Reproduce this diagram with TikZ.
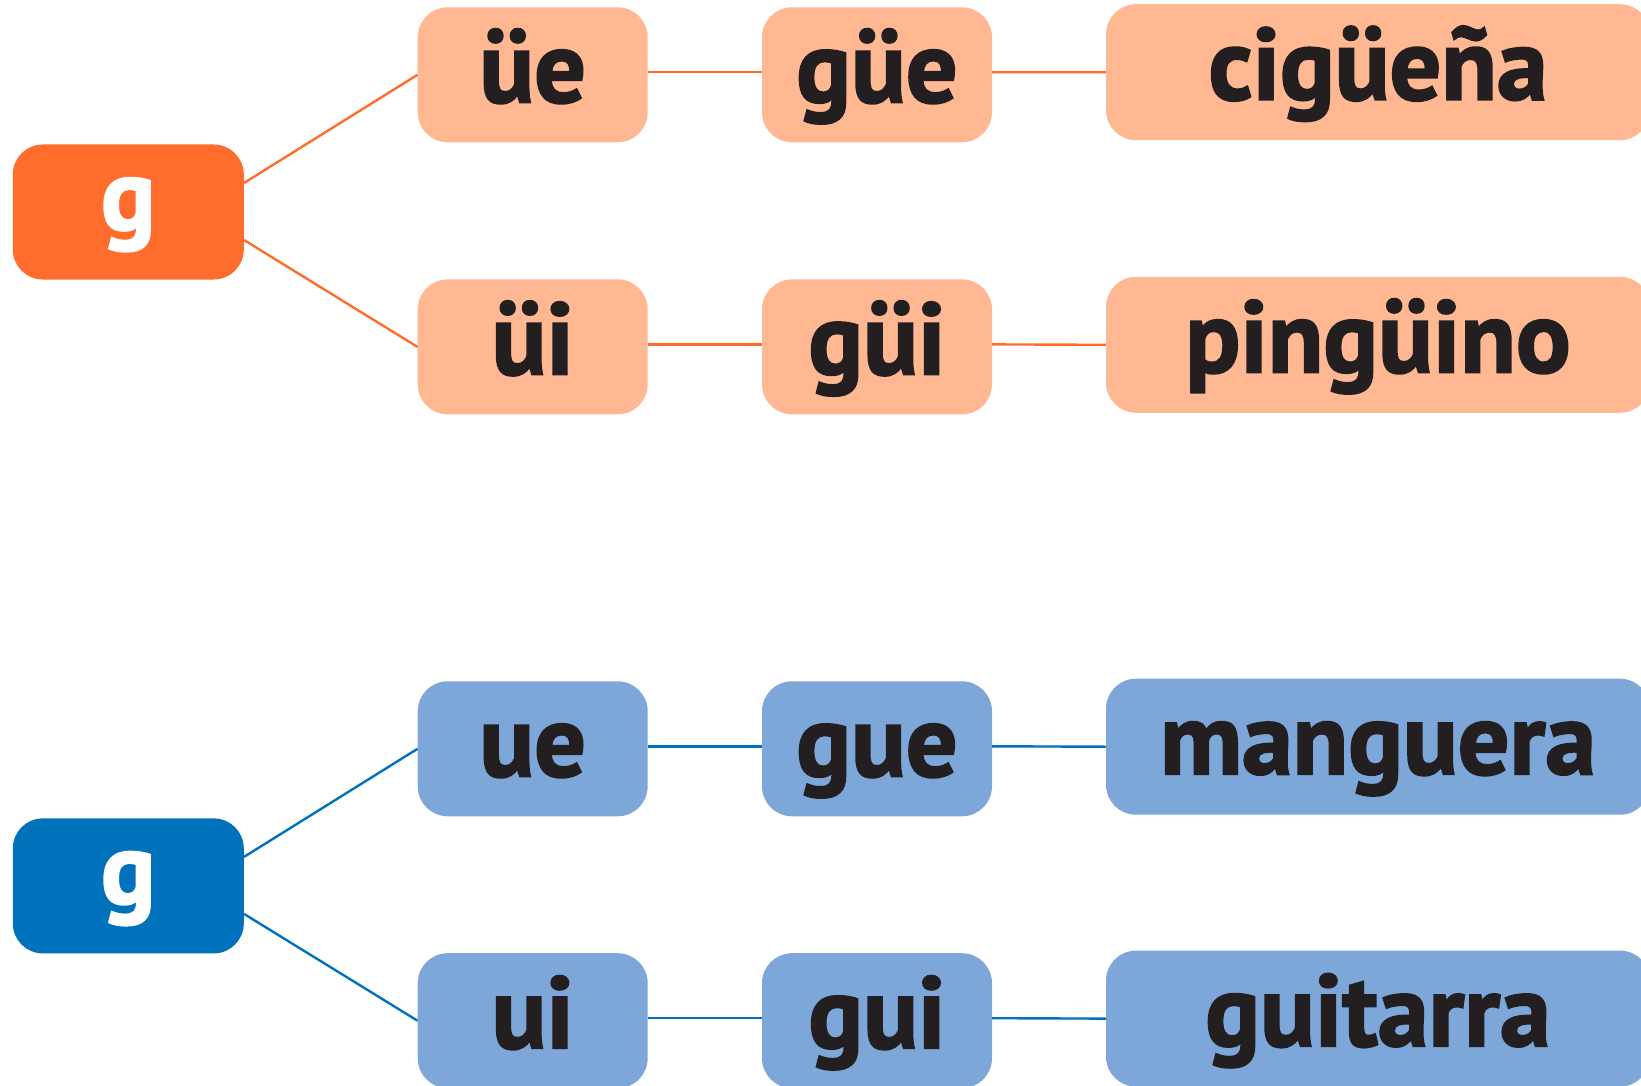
\documentclass[tikz,border=0pt]{standalone}
\usepackage{fontspec}
\setmainfont{PT Sans}[BoldFeatures={FakeBold=2}]
\definecolor{oDark}{HTML}{FF6C2C}
\definecolor{oLight}{HTML}{FFB892}
\definecolor{bDark}{HTML}{0072BC}
\definecolor{bLight}{HTML}{7DA7D9}
\definecolor{txt}{HTML}{231F20}
\begin{document}
\begin{tikzpicture}[x=1pt,y=-1pt,
  box/.style={rounded corners=30pt, inner sep=0pt, minimum height=135pt,
    text height=75pt, text depth=20pt,
    font=\fontsize{102}{102}\selectfont\bfseries, text=txt},
  smallbox/.style={box, minimum width=230pt},
  bigbox/.style={box, minimum width=544pt, minimum height=136pt},
  rootbox/.style={box, minimum width=231pt, text=white, text height=56pt, text depth=20pt},
  oline/.style={draw=oDark, line width=2.4pt},
  bline/.style={draw=bDark, line width=2.4pt}]
\useasboundingbox (0,0) rectangle (1641,1086);
% orange group
\node[rootbox, fill=oDark] (gO) at (128.3,212) {g};
\node[smallbox, fill=oLight] (ue1) at (532.7,74.8) {üe};
\node[smallbox, fill=oLight] (gue1) at (877,74.8) {güe};
\node[bigbox, fill=oLight] (cig) at (1378,72.2) {cigüeña};
\node[smallbox, fill=oLight] (ui1) at (532.7,346.9) {üi};
\node[smallbox, fill=oLight] (gui1) at (877,346.9) {güi};
\node[bigbox, fill=oLight] (ping) at (1378,344.8) {pingüino};
\draw[oline] ([yshift=29pt]gO.east) -- (ue1.west);
\draw[oline] ([yshift=-28pt]gO.east) -- (ui1.west);
\draw[oline] ([yshift=2.5pt]ue1.east) -- ([yshift=2.5pt]gue1.west);
\draw[oline] ([yshift=2.5pt]gue1.east) -- (cig.west);
\draw[oline] ([yshift=2.5pt]ui1.east) -- ([yshift=2.5pt]gui1.west);
\draw[oline] ([yshift=2.5pt]gui1.east) -- (ping.west);
% blue group
\node[rootbox, fill=bDark] (gB) at (128.3,885.9) {g};
\node[smallbox, fill=bLight] (ue2) at (532.7,748.8) {ue};
\node[smallbox, fill=bLight] (gue2) at (877,748.8) {gue};
\node[bigbox, fill=bLight] (mang) at (1378,746.7) {manguera};
\node[smallbox, fill=bLight] (ui2) at (532.7,1020.7) {ui};
\node[smallbox, fill=bLight] (gui2) at (877,1020.7) {gui};
\node[bigbox, fill=bLight] (guit) at (1378,1018.6) {guitarra};
\draw[bline] ([yshift=29pt]gB.east) -- (ue2.west);
\draw[bline] ([yshift=-28pt]gB.east) -- (ui2.west);
\draw[bline] ([yshift=2.5pt]ue2.east) -- ([yshift=2.5pt]gue2.west);
\draw[bline] ([yshift=2.5pt]gue2.east) -- (mang.west);
\draw[bline] ([yshift=2.5pt]ui2.east) -- ([yshift=2.5pt]gui2.west);
\draw[bline] ([yshift=2.5pt]gui2.east) -- (guit.west);
\end{tikzpicture}
\end{document}
